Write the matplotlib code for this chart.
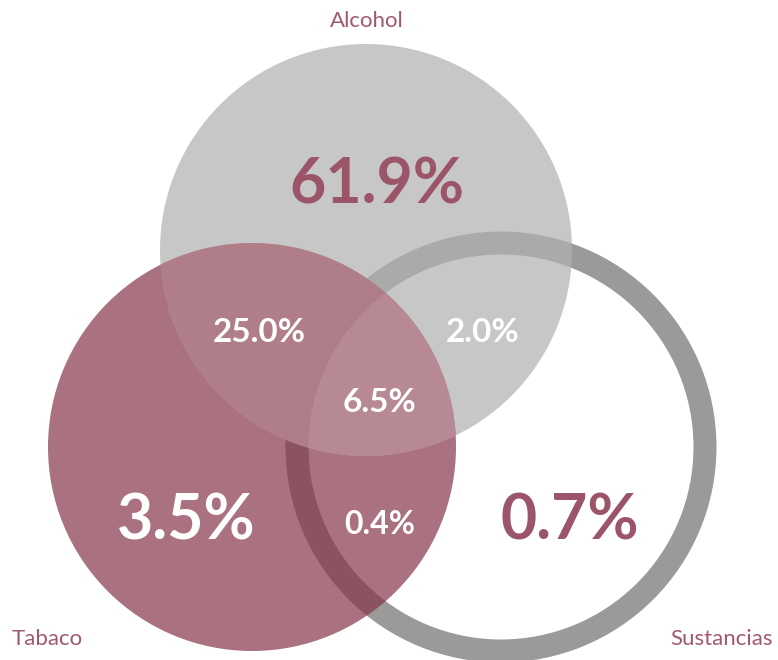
import numpy as np
import matplotlib
matplotlib.use("Agg")
import matplotlib.pyplot as plt
from matplotlib.patches import Circle, Polygon

# ---- data ----
set_names = ["Alcohol", "Tabaco", "Sustancias"]
region_names = ["Alcohol", "Tabaco", "Sustancias",
                "Alcohol&Tabaco", "Alcohol&Sustancias", "Tabaco&Sustancias",
                "Alcohol&Tabaco&Sustancias"]
region_values = [61.9, 3.5, 0.7, 25.0, 2.0, 0.4, 6.5]

# ---- layout (pixel coordinates) ----
W, H = 778, 660
circles = {
    "Alcohol": (366, 250, 206),
    "Tabaco": (252, 447, 204),
    "Sustancias": (501, 447, 204),
}
ring_width_px = 23
label_pos = {
    "Alcohol": (367, 21, "center"),
    "Tabaco": (12, 639, "left"),
    "Sustancias": (773, 639, "right"),
}
value_pos = [(377, 185), (186, 522), (570, 522), (259, 333), (483, 333), (380, 525), (380, 402)]
value_size = [45, 45, 45, 24, 24, 23, 24]
value_color = ["#9b5468", "white", "#9b5468", "white", "white", "white", "white"]

FONT = ["Lato", "DejaVu Sans"]

fig = plt.figure(figsize=(W / 100, H / 100), dpi=100)
ax = fig.add_axes([0, 0, 1, 1])
ax.set_xlim(0, W)
ax.set_ylim(H, 0)
ax.axis("off")

ca = circles["Alcohol"]
ct = circles["Tabaco"]
cs = circles["Sustancias"]

# ring (Sustancias)
ax.add_patch(Circle(cs[:2], cs[2], fill=False,
                    edgecolor="#9a9a99", linewidth=ring_width_px * 0.72, zorder=1))
# Tabaco
ax.add_patch(Circle(ct[:2], ct[2], facecolor="#86364a", alpha=0.7,
                    edgecolor="none", zorder=2))
# Alcohol
ax.add_patch(Circle(ca[:2], ca[2], facecolor="#b1b1b1", alpha=0.71,
                    edgecolor="none", zorder=3))
# Alcohol & Tabaco overlay
clip_a = Circle(ca[:2], ca[2], transform=ax.transData)
ov = Circle(ct[:2], ct[2], facecolor=(176/255, 123/255, 135/255), alpha=0.9,
            edgecolor="none", zorder=4)
ax.add_patch(ov)
ov.set_clip_path(clip_a)


def intersection_polygon(circs, n=1440):
    pts = []
    for i, (cx, cy, r) in enumerate(circs):
        t = np.linspace(0, 2 * np.pi, n, endpoint=False)
        p = np.c_[cx + r * np.cos(t), cy + r * np.sin(t)]
        m = np.ones(len(p), bool)
        for j, (ox, oy, orr) in enumerate(circs):
            if j != i:
                m &= np.hypot(p[:, 0] - ox, p[:, 1] - oy) <= orr + 1e-6
        pts.append(p[m])
    pts = np.vstack(pts)
    c = pts.mean(axis=0)
    ang = np.arctan2(pts[:, 1] - c[1], pts[:, 0] - c[0])
    return pts[np.argsort(ang)]


inner = (cs[0], cs[1], cs[2] - ring_width_px / 2)
tri = intersection_polygon([ca, ct, inner])
ax.add_patch(Polygon(tri, closed=True, facecolor=(185/255, 139/255, 150/255),
                     alpha=0.9, edgecolor="none", zorder=5))

# set labels
for name in set_names:
    x, y, ha = label_pos[name]
    ax.text(x, y, name, ha=ha, va="center", fontsize=16, color="#a0596d",
            family=FONT, zorder=10)

# values
for v, (x, y), s, c in zip(region_values, value_pos, value_size, value_color):
    ax.text(x, y, f"{v:.1f}%", ha="center", va="center", fontsize=s,
            fontweight="bold", color=c, family=FONT, zorder=10)

fig.savefig("out.png", dpi=100)
